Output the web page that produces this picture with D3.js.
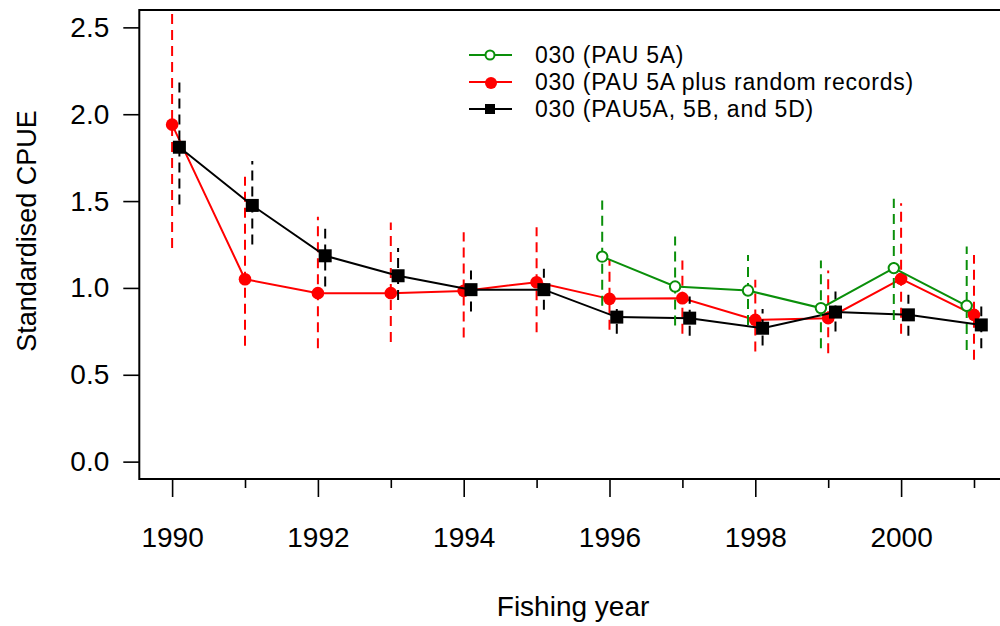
<!DOCTYPE html>
<html>
<head>
<meta charset="utf-8">
<script src="https://cdn.jsdelivr.net/npm/d3@7/dist/d3.min.js"></script>
<style>
  html, body { margin: 0; padding: 0; background: #fff; }
  svg { display: block; }
  text { font-family: "Liberation Sans", Arial, Helvetica, sans-serif; fill: #000; }
</style>
</head>
<body>
<svg id="chart" width="1000" height="626"></svg>
<script>
// ---- data ----
const years = [1990,1991,1992,1993,1994,1995,1996,1997,1998,1999,2000,2001];
const xTickMajor = [1990,1992,1994,1996,1998,2000];
const xTickMinor = [1991,1993,1995,1997,1999,2001];
const yTicks = [0.0,0.5,1.0,1.5,2.0,2.5];

// 030 (PAU 5A) – green, 1996 onwards
const greenYears = [1996,1997,1998,1999,2000,2001];
const greenVal   = [1.18, 1.008, 0.985, 0.884, 1.114, 0.897];
const greenLow   = [0.897, 0.783, 0.787, 0.653, 0.816, 0.643];
const greenHigh  = [1.503, 1.296, 1.19, 1.158, 1.513, 1.238];

// 030 (PAU 5A plus random records) – red
const redVal  = [1.94, 1.05, 0.97, 0.97, 0.983, 1.033, 0.937, 0.941, 0.816, 0.826, 1.052, 0.845];
const redLow  = [1.23, 0.667, 0.653, 0.688, 0.714, 0.745, 0.759, 0.736, 0.634, 0.624, 0.736, 0.586];
const redHigh = [2.75, 1.64, 1.41, 1.377, 1.32, 1.35, 1.162, 1.158, 1.047, 1.10, 1.488, 1.19];

// 030 (PAU5A, 5B, and 5D) – black
const blackVal  = [1.81, 1.475, 1.185, 1.07, 0.99, 0.99, 0.832, 0.826, 0.768, 0.861, 0.845, 0.787];
const blackLow  = [1.48, 1.25, 1.008, 0.93, 0.864, 0.874, 0.736, 0.724, 0.668, 0.749, 0.724, 0.653];
const blackHigh = [2.19, 1.73, 1.34, 1.23, 1.10, 1.11, 0.878, 0.95, 0.878, 0.979, 0.96, 0.893];

const legendLabels = ["030 (PAU 5A)", "030 (PAU 5A plus random records)", "030 (PAU5A, 5B, and 5D)"];

// ---- layout ----
const svg = d3.select("#chart");
const L = 139.3, R = 1006.8, T = 10, B = 479;
const x = d3.scaleLinear().domain([1989.55, 2001.45]).range([L, R]);
const y = d3.scaleLinear().domain([-0.1, 2.6]).range([B, T]);

const GREEN = "#0a8f0a", RED = "#ff0000", BLACK = "#000000";

svg.append("defs").append("clipPath").attr("id", "plotclip")
  .append("rect").attr("x", L).attr("y", T).attr("width", R - L).attr("height", B - T);

// ---- axes ----
const yAxis = d3.axisLeft(y).tickValues(yTicks).tickFormat(d3.format(".1f")).tickSize(16).tickPadding(14);
const gy = svg.append("g").attr("transform", `translate(${L},0)`).call(yAxis);
gy.select(".domain").remove();
gy.selectAll(".tick line").attr("stroke", "#000").attr("stroke-width", 1.6);
gy.selectAll(".tick text").attr("font-size", 28).attr("fill", "#000").attr("font-family", "Liberation Sans, Arial, sans-serif");

const xAxis = d3.axisBottom(x).tickValues(xTickMajor).tickFormat(d3.format("d")).tickSize(18).tickPadding(30);
const gx = svg.append("g").attr("transform", `translate(0,${B})`).call(xAxis);
gx.select(".domain").remove();
gx.selectAll(".tick line").attr("stroke", "#000").attr("stroke-width", 1.6);
gx.selectAll(".tick text").attr("font-size", 28).attr("fill", "#000").attr("font-family", "Liberation Sans, Arial, sans-serif");

const xAxisMinor = d3.axisBottom(x).tickValues(xTickMinor).tickFormat("").tickSize(9);
const gxm = svg.append("g").attr("transform", `translate(0,${B})`).call(xAxisMinor);
gxm.select(".domain").remove();
gxm.selectAll(".tick line").attr("stroke", "#000").attr("stroke-width", 1.6);

// frame
svg.append("rect").attr("x", L).attr("y", T).attr("width", R - L).attr("height", B - T)
  .attr("fill", "none").attr("stroke", "#000").attr("stroke-width", 2);

// axis titles
svg.append("text").attr("x", (L + R) / 2).attr("y", 616).attr("text-anchor", "middle")
  .attr("font-size", 28).text("Fishing year");
svg.append("text").attr("transform", `translate(36,231) rotate(-90)`).attr("text-anchor", "middle")
  .attr("font-size", 27).text("Standardised CPUE");

// ---- series ----
const plot = svg.append("g").attr("clip-path", "url(#plotclip)");

function drawSeries(yrs, vals, lows, highs, offset, color, shape) {
  const g = plot.append("g");
  const pts = yrs.map((yr, i) => ({ yr: yr + offset, v: vals[i], lo: lows[i], hi: highs[i] }));
  // error bars
  g.selectAll("line.err").data(pts).enter().append("line")
    .attr("x1", d => x(d.yr)).attr("x2", d => x(d.yr))
    .attr("y1", d => y(d.lo)).attr("y2", d => y(d.hi))
    .attr("stroke", color).attr("stroke-width", 2).attr("stroke-dasharray", "10,6");
  // line
  g.append("path").datum(pts)
    .attr("d", d3.line().x(d => x(d.yr)).y(d => y(d.v)))
    .attr("fill", "none").attr("stroke", color).attr("stroke-width", 2);
  // markers
  if (shape === "square") {
    g.selectAll("rect.m").data(pts).enter().append("rect")
      .attr("x", d => x(d.yr) - 6.5).attr("y", d => y(d.v) - 6.5)
      .attr("width", 13).attr("height", 13).attr("fill", color);
  } else if (shape === "open") {
    g.selectAll("circle.m").data(pts).enter().append("circle")
      .attr("cx", d => x(d.yr)).attr("cy", d => y(d.v)).attr("r", 5.2)
      .attr("fill", "#fff").attr("stroke", color).attr("stroke-width", 2);
  } else {
    g.selectAll("circle.m").data(pts).enter().append("circle")
      .attr("cx", d => x(d.yr)).attr("cy", d => y(d.v)).attr("r", 6.3)
      .attr("fill", color);
  }
}

drawSeries(years, redVal, redLow, redHigh, 0, RED, "filled");
drawSeries(years, blackVal, blackLow, blackHigh, 0.1, BLACK, "square");
drawSeries(greenYears, greenVal, greenLow, greenHigh, -0.1, GREEN, "open");

// ---- legend ----
const legend = svg.append("g");
const legColors = [GREEN, RED, BLACK];
const legShapes = ["open", "filled", "square"];
const legY = [55, 82, 109];
legendLabels.forEach((lab, i) => {
  const cy = legY[i];
  legend.append("line").attr("x1", 469).attr("x2", 512).attr("y1", cy).attr("y2", cy)
    .attr("stroke", legColors[i]).attr("stroke-width", 2);
  if (legShapes[i] === "open") {
    legend.append("circle").attr("cx", 490).attr("cy", cy).attr("r", 4.5)
      .attr("fill", "#fff").attr("stroke", legColors[i]).attr("stroke-width", 2);
  } else if (legShapes[i] === "filled") {
    legend.append("circle").attr("cx", 491).attr("cy", cy + 1).attr("r", 6).attr("fill", legColors[i]);
  } else {
    legend.append("rect").attr("x", 485).attr("y", cy - 5).attr("width", 10).attr("height", 10).attr("fill", legColors[i]);
  }
  legend.append("text").attr("x", 535).attr("y", cy + 8).attr("font-size", 23)
    .attr("letter-spacing", 0.75).text(lab);
});
</script>
</body>
</html>
